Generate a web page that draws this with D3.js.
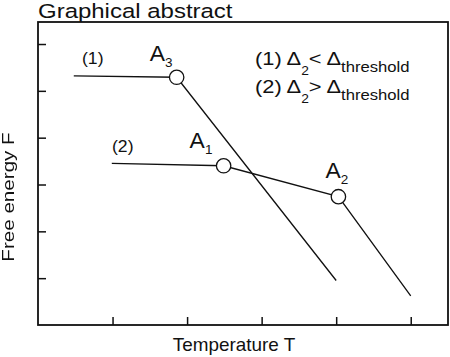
<!DOCTYPE html>
<html>
<head>
<meta charset="utf-8">
<script src="https://cdn.jsdelivr.net/npm/d3@7"></script>
<style>
  body { margin: 0; background: #fff; }
  text { font-family: "Liberation Sans", Arial, sans-serif; fill: #111; }
</style>
</head>
<body>
<div id="chart"></div>
<script>
// chart values
const xTicks = [1, 2, 3, 4, 5];
const yTicks = [1, 2, 3, 4, 5, 6];
const curve1 = [[0.48, 5.32], [1.86, 5.29], [4.0, 0.95]];
const curve2 = [[0.99, 3.45], [2.49, 3.40], [4.03, 2.74], [5.0, 0.62]];
const points = [
  { name: "A", sub: "3", t: 1.86, f: 5.29 },
  { name: "A", sub: "1", t: 2.49, f: 3.40 },
  { name: "A", sub: "2", t: 4.03, f: 2.74 }
];
const curveNames = ["(1)", "(2)"];
const legendRows = [
  { id: "(1)", op: "<" },
  { id: "(2)", op: ">" }
];

// setup for svg
const margin = { top: 22, right: 2, bottom: 32, left: 38 };
const width = 450 - margin.left - margin.right,
      height = 357 - margin.top - margin.bottom;

const root = d3.select("#chart").append("svg")
  .attr("width", 450)
  .attr("height", 357);

const svg = root.append("g")
  .attr("transform", "translate(" + margin.left + "," + margin.top + ")");

const x = d3.scaleLinear().domain([0, 5.5]).range([0, width]);
const y = d3.scaleLinear().domain([0, 6.47]).range([height, 0]);

// axes with inward ticks, no labels
svg.append("g")
  .attr("transform", "translate(0," + height + ")")
  .call(d3.axisBottom(x).tickValues(xTicks).tickSize(-8).tickFormat(""))
  .call(g => g.select(".domain").remove())
  .selectAll("line").attr("stroke", "#111").attr("stroke-width", 1.5);

svg.append("g")
  .call(d3.axisLeft(y).tickValues(yTicks).tickSize(-8).tickFormat(""))
  .call(g => g.select(".domain").remove())
  .selectAll("line").attr("stroke", "#111").attr("stroke-width", 1.5);

// frame
svg.append("rect")
  .attr("width", width).attr("height", height)
  .attr("fill", "none").attr("stroke", "#111").attr("stroke-width", 1.8);

// curves
const line = d3.line().x(d => x(d[0])).y(d => y(d[1]));
[curve1, curve2].forEach(c => {
  svg.append("path")
    .attr("d", line(c))
    .attr("fill", "none")
    .attr("stroke", "#111")
    .attr("stroke-width", 1.3);
});

// transition points
svg.selectAll("circle.pt").data(points).enter().append("circle")
  .attr("class", "pt")
  .attr("cx", d => x(d.t)).attr("cy", d => y(d.f))
  .attr("r", 7.2)
  .attr("fill", "#fff").attr("stroke", "#111").attr("stroke-width", 1.3);

// point labels (offsets from the point, in px)
const labelOff = [[-27, -16], [-34, -18], [-13, -19]];
points.forEach((p, i) => {
  const t = svg.append("text")
    .attr("transform", "translate(" + (x(p.t) + labelOff[i][0]) + "," + (y(p.f) + labelOff[i][1]) + ") scale(1.04,1)")
    .style("font-size", "22px");
  t.append("tspan").text(p.name);
  t.append("tspan").attr("dy", 6).style("font-size", "13px").text(p.sub);
});

// curve labels
const curveLab = [[82, 64], [112, 152]];
curveNames.forEach((n, i) => {
  root.append("text")
    .attr("transform", "translate(" + curveLab[i][0] + "," + curveLab[i][1] + ") scale(1.1,1)")
    .style("font-size", "16px")
    .text(n);
});

// legend
legendRows.forEach((r, i) => {
  const t = root.append("text")
    .attr("transform", "translate(255," + (65 + i * 28) + ") scale(1.15,1)")
    .style("font-size", "19px");
  t.append("tspan").text(r.id + " \u0394");
  t.append("tspan").attr("dy", 10).style("font-size", "12px").text("2");
  t.append("tspan").attr("dy", -10).text(r.op + " \u0394");
  t.append("tspan").attr("dy", 6.7).style("font-size", "14.5px").text("threshold");
});

// title
root.append("text")
  .attr("transform", "translate(38,17.5) scale(1.17,1)")
  .style("font-size", "20.5px")
  .text("Graphical abstract");

// axis titles
root.append("text")
  .attr("transform", "translate(234,350.5) scale(1.08,1)")
  .attr("text-anchor", "middle")
  .style("font-size", "17.5px")
  .text("Temperature T");

// rotated label: grayscale filter avoids coloured fringes
root.append("text")
  .attr("transform", "translate(14,197) rotate(-90) scale(1.25,1)")
  .attr("text-anchor", "middle")
  .style("font-size", "16.5px")
  .style("filter", "grayscale(1)")
  .text("Free energy F");
</script>
</body>
</html>
